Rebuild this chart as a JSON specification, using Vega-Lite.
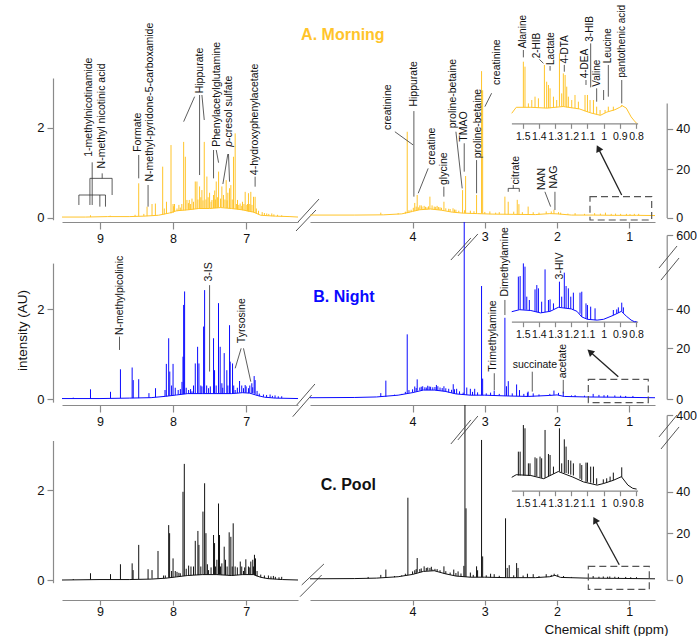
{
"$schema":"https://vega.github.io/schema/vega-lite/v6.json",
"width":697,"height":636,"autosize":"none","padding":0,"background":"white",
"config":{"view":{"stroke":null},"font":"Liberation Sans",
"axis":{"grid":false,"labelFont":"Liberation Sans","titleFont":"Liberation Sans","domainColor":"#8a8a8a","tickColor":"#8a8a8a","labelColor":"#111","labelFlush":false,"labelOverlap":false,"labelFontSize":12.5,"tickSize":6,"domainWidth":1.2,"tickWidth":1.2,"labelPadding":3}},
"datasets":{
"ALb":[{"x":9.52,"y":0.01},{"x":9.2,"y":0.01},{"x":8.9,"y":0.02},{"x":8.6,"y":0.02},{"x":8.4,"y":0.03},{"x":8.2,"y":0.05},{"x":8.05,"y":0.1},{"x":7.95,"y":0.15},{"x":7.8,"y":0.17},{"x":7.65,"y":0.2},{"x":7.5,"y":0.2},{"x":7.35,"y":0.22},{"x":7.2,"y":0.2},{"x":7.05,"y":0.17},{"x":6.9,"y":0.12},{"x":6.8,"y":0.05},{"x":6.6,"y":0.03},{"x":6.4,"y":0.02},{"x":6.29,"y":0.01}],
"ALp":[{"x":9.13,"y":0.05,"b":0.01},{"x":8.86,"y":0.04,"b":0.02},{"x":8.52,"y":0.06,"b":0.03},{"x":8.47,"y":0.76,"b":0.03},{"x":8.4,"y":0.08,"b":0.03},{"x":8.356,"y":0.24,"b":0.03},{"x":8.288,"y":0.3,"b":0.04},{"x":8.242,"y":0.31,"b":0.04},{"x":8.142,"y":1.13,"b":0.07},{"x":8.09,"y":0.35,"b":0.08},{"x":8.028,"y":1.61,"b":0.09},{"x":7.992,"y":0.25,"b":0.12},{"x":7.946,"y":0.2,"b":0.14},{"x":7.901,"y":0.22,"b":0.15},{"x":7.855,"y":1.68,"b":0.16},{"x":7.832,"y":1.35,"b":0.16},{"x":7.81,"y":0.39,"b":0.17},{"x":7.778,"y":0.39,"b":0.17},{"x":7.741,"y":0.42,"b":0.18},{"x":7.696,"y":0.8,"b":0.19},{"x":7.673,"y":0.8,"b":0.19},{"x":7.637,"y":0.69,"b":0.2},{"x":7.62,"y":0.45,"b":0.2},{"x":7.605,"y":0.61,"b":0.2},{"x":7.573,"y":1.68,"b":0.2},{"x":7.537,"y":0.91,"b":0.2},{"x":7.5,"y":0.55,"b":0.2},{"x":7.468,"y":0.39,"b":0.21},{"x":7.446,"y":0.5,"b":0.21},{"x":7.43,"y":0.6,"b":0.21},{"x":7.409,"y":0.8,"b":0.21},{"x":7.377,"y":1.02,"b":0.22},{"x":7.332,"y":0.69,"b":0.22},{"x":7.31,"y":0.5,"b":0.22},{"x":7.273,"y":0.83,"b":0.21},{"x":7.25,"y":0.55,"b":0.21},{"x":7.227,"y":0.65,"b":0.2},{"x":7.209,"y":0.72,"b":0.2},{"x":7.173,"y":1.35,"b":0.19},{"x":7.15,"y":1.87,"b":0.19},{"x":7.118,"y":0.39,"b":0.18},{"x":7.082,"y":0.31,"b":0.17},{"x":7.05,"y":0.35,"b":0.16},{"x":7.013,"y":0.57,"b":0.15},{"x":6.98,"y":0.3,"b":0.14},{"x":6.968,"y":0.54,"b":0.13},{"x":6.936,"y":0.57,"b":0.12},{"x":6.899,"y":0.46,"b":0.11},{"x":6.877,"y":0.46,"b":0.1},{"x":6.78,"y":0.12,"b":0.05},{"x":6.718,"y":0.09,"b":0.04},{"x":6.649,"y":0.09,"b":0.03},{"x":6.513,"y":0.05,"b":0.02},
{"x":8.12,"y":0.2,"b":0.07},{"x":8.0,"y":0.3,"b":0.1},{"x":7.98,"y":0.3,"b":0.13},{"x":7.92,"y":0.28,"b":0.15},{"x":7.88,"y":0.3,"b":0.16},{"x":7.79,"y":0.32,"b":0.17},{"x":7.76,"y":0.3,"b":0.17},{"x":7.72,"y":0.35,"b":0.18},{"x":7.66,"y":0.4,"b":0.19},{"x":7.59,"y":0.38,"b":0.2},{"x":7.55,"y":0.4,"b":0.2},{"x":7.52,"y":0.45,"b":0.2},{"x":7.48,"y":0.35,"b":0.2},{"x":7.42,"y":0.4,"b":0.21},{"x":7.39,"y":0.45,"b":0.21},{"x":7.35,"y":0.42,"b":0.22},{"x":7.29,"y":0.4,"b":0.22},{"x":7.26,"y":0.38,"b":0.21},{"x":7.19,"y":0.4,"b":0.2},{"x":7.13,"y":0.3,"b":0.19},{"x":7.1,"y":0.28,"b":0.18},{"x":7.06,"y":0.26,"b":0.17},{"x":7.03,"y":0.3,"b":0.16},{"x":6.99,"y":0.28,"b":0.14},{"x":6.95,"y":0.3,"b":0.13},{"x":6.92,"y":0.28,"b":0.12},{"x":6.86,"y":0.2,"b":0.09},{"x":6.83,"y":0.15,"b":0.07},{"x":6.75,"y":0.1,"b":0.05},{"x":6.69,"y":0.08,"b":0.04},{"x":6.62,"y":0.07,"b":0.03},{"x":6.57,"y":0.06,"b":0.03}],
"ALt":[{"x":9.152,"y":1.35,"t":"1-methylnicotinamide"},{"x":8.97,"y":1.09,"t":"N-methyl nicotinic acid"},{"x":8.484,"y":1.46,"t":"Formate"},{"x":8.31,"y":0.8,"t":"N-methyl-pyridone-5-carboxamide"},{"x":7.637,"y":2.76,"t":"Hippurate"},{"x":7.4,"y":1.57,"t":"Phenylacetylglutamine"},{"x":7.228,"y":1.7,"t":"-cresol sulfate"},{"x":6.877,"y":0.94,"t":"4-hydroxyphenylacetate"}],
"ALl":[{"x":9.107,"y":1.226,"x2":9.107,"y2":0.278},{"x":9.138,"y":0.87,"x2":8.834,"y2":0.87},{"x":8.97,"y":0.981,"x2":8.97,"y2":0.87},{"x":8.834,"y":0.87,"x2":8.834,"y2":0.5},{"x":9.138,"y":0.87,"x2":9.138,"y2":0.278},{"x":9.289,"y":0.5,"x2":8.925,"y2":0.5},{"x":9.289,"y":0.5,"x2":9.289,"y2":0.278},{"x":9.002,"y":0.5,"x2":9.002,"y2":0.241},{"x":8.925,"y":0.5,"x2":8.925,"y2":0.241},{"x":8.47,"y":1.389,"x2":8.47,"y2":0.87},{"x":8.342,"y":0.722,"x2":8.342,"y2":0.241},{"x":7.705,"y":2.685,"x2":7.855,"y2":2.13},{"x":7.637,"y":2.722,"x2":7.637,"y2":0.944},{"x":7.605,"y":2.722,"x2":7.573,"y2":2.167},{"x":7.409,"y":1.5,"x2":7.377,"y2":1.218},{"x":7.446,"y":1.5,"x2":7.446,"y2":0.87},{"x":7.25,"y":1.411,"x2":7.318,"y2":0.744},{"x":7.241,"y":1.411,"x2":7.227,"y2":0.796},{"x":6.877,"y":0.907,"x2":6.877,"y2":0.685}],
"ALk":[{"x":6.29,"y":-0.1,"x2":6.003,"y2":0.41},{"x":6.317,"y":-0.3,"x2":6.044,"y2":0.167}],
"ARb":[{"x":5.42,"y":1},{"x":4.8,"y":1},{"x":4.4,"y":1.1},{"x":4.15,"y":1.5},{"x":4.0,"y":2.5},{"x":3.9,"y":3.2},{"x":3.75,"y":3.5},{"x":3.6,"y":3},{"x":3.45,"y":2.2},{"x":3.3,"y":1.8},{"x":3.1,"y":1.6},{"x":2.9,"y":1.4},{"x":2.6,"y":1.3},{"x":2.3,"y":1.2},{"x":2.1,"y":1.6},{"x":2.0,"y":1.5},{"x":1.8,"y":1.0},{"x":1.5,"y":1.0},{"x":1.2,"y":0.9},{"x":0.9,"y":0.9},{"x":0.644,"y":0.8}],
"ARp":[{"x":4.44,"y":2,"b":1.1},{"x":4.074,"y":38.4,"b":1.8},{"x":4.05,"y":3,"b":1.9},{"x":3.97,"y":6,"b":2.7},{"x":3.936,"y":9.3,"b":3},{"x":3.9,"y":5,"b":3.2},{"x":3.87,"y":4.5,"b":3.3},{"x":3.84,"y":4.8,"b":3.3},{"x":3.8,"y":4.2,"b":3.4},{"x":3.76,"y":8.6,"b":3.5},{"x":3.73,"y":5,"b":3.4},{"x":3.7,"y":4.5,"b":3.3},{"x":3.66,"y":4.8,"b":3.2},{"x":3.62,"y":4.2,"b":3.1},{"x":3.566,"y":6.5,"b":2.9},{"x":3.5,"y":3.6,"b":2.5},{"x":3.44,"y":3.8,"b":2.2},{"x":3.4,"y":3.2,"b":2.1},{"x":3.308,"y":11.3,"b":1.8},{"x":3.266,"y":17.1,"b":1.8},{"x":3.2,"y":2.8,"b":1.7},{"x":3.114,"y":9.3,"b":1.6},{"x":3.045,"y":67,"b":1.6},{"x":3.03,"y":58,"b":1.6},{"x":2.93,"y":2.5,"b":1.4},{"x":2.722,"y":8.6,"b":1.3},{"x":2.676,"y":6.5,"b":1.3},{"x":2.551,"y":7.3,"b":1.3},{"x":2.528,"y":5.5,"b":1.3},{"x":2.4,"y":4.5,"b":1.2},{"x":2.33,"y":2.2,"b":1.2},{"x":2.15,"y":2.5,"b":1.5},{"x":2.043,"y":3.2,"b":1.5},{"x":1.95,"y":2,"b":1.3},{"x":1.75,"y":1.8,"b":1.0},{"x":1.48,"y":1.8,"b":1.0},{"x":1.33,"y":2,"b":1.0},{"x":1.19,"y":1.6,"b":0.9},{"x":1.04,"y":1.5,"b":0.9},{"x":0.93,"y":1.5,"b":0.9},
{"x":4.2,"y":1.8,"b":1.3},{"x":4.1,"y":2.4,"b":1.6},{"x":4.02,"y":3.2,"b":2.3},{"x":3.99,"y":4,"b":2.6},{"x":3.95,"y":4.5,"b":2.9},{"x":3.92,"y":4.2,"b":3.1},{"x":3.88,"y":5,"b":3.3},{"x":3.82,"y":4.4,"b":3.4},{"x":3.78,"y":4.6,"b":3.5},{"x":3.68,"y":4.4,"b":3.3},{"x":3.64,"y":4.3,"b":3.2},{"x":3.6,"y":4,"b":3},{"x":3.54,"y":3.8,"b":2.8},{"x":3.48,"y":3.5,"b":2.4},{"x":3.42,"y":3.3,"b":2.2},{"x":3.36,"y":2.8,"b":2},{"x":3.28,"y":3,"b":1.8},{"x":3.15,"y":2.6,"b":1.6},{"x":3.0,"y":2.3,"b":1.5},{"x":2.85,"y":2,"b":1.4},{"x":2.8,"y":2.2,"b":1.4},{"x":2.6,"y":2.4,"b":1.3},{"x":2.48,"y":2.2,"b":1.3},{"x":2.25,"y":2,"b":1.2},{"x":2.08,"y":2.5,"b":1.6},{"x":1.98,"y":2.2,"b":1.4},{"x":1.85,"y":1.6,"b":1.1},{"x":1.62,"y":1.5,"b":1},{"x":1.4,"y":1.6,"b":1},{"x":1.25,"y":1.5,"b":0.9},{"x":1.12,"y":1.5,"b":0.9},{"x":0.99,"y":1.4,"b":0.9},{"x":0.87,"y":1.5,"b":0.9}],
"ARt":[{"x":4.338,"y":39.3,"t":"creatinine"},{"x":3.982,"y":50.3,"t":"Hippurate"},{"x":3.737,"y":22,"t":"creatine"},{"x":3.567,"y":13.4,"t":"glycine"},{"x":3.447,"y":40.1,"t":"proline-betaine"},{"x":3.285,"y":33.5,"t":"TMAO"},{"x":3.1,"y":25.3,"t":"proline-betaine"},{"x":2.837,"y":60.5,"t":"creatinine"},{"x":2.569,"y":13.6,"t":"citrate"},{"x":2.205,"y":11.3,"t":"NAN"},{"x":2.043,"y":12,"t":"NAG"}],
"ARl":[{"x":4.245,"y":38.4,"x2":3.993,"y2":31.9},{"x":3.982,"y":48.2,"x2":3.982,"y2":8.6},{"x":3.784,"y":20.3,"x2":3.922,"y2":10},{"x":3.567,"y":12.7,"x2":3.567,"y2":8.6},{"x":3.4,"y":38.4,"x2":3.313,"y2":12},{"x":3.285,"y":32.7,"x2":3.285,"y2":18.9},{"x":3.114,"y":24.4,"x2":3.114,"y2":10},{"x":2.906,"y":56.6,"x2":2.999,"y2":50.3},{"x":2.676,"y":12,"x2":2.523,"y2":12},{"x":2.676,"y":12,"x2":2.676,"y2":10.6},{"x":2.523,"y":12,"x2":2.523,"y2":10.6},{"x":2.606,"y":13.4,"x2":2.606,"y2":12},{"x":2.168,"y":10.6,"x2":2.089,"y2":4.5},{"x":2.029,"y":10.6,"x2":2.029,"y2":3.1}],
"AIb":[{"x":1.568,"y":12.5},{"x":1.54,"y":20},{"x":1.45,"y":20},{"x":1.35,"y":19},{"x":1.25,"y":21},{"x":1.15,"y":18},{"x":1.08,"y":13},{"x":1.04,"y":11},{"x":1.02,"y":10},{"x":0.98,"y":14},{"x":0.93,"y":17},{"x":0.9,"y":20},{"x":0.885,"y":22},{"x":0.86,"y":19},{"x":0.83,"y":8},{"x":0.81,"y":3},{"x":0.796,"y":0}],
"AIp":[{"x":1.496,"y":77,"b":20},{"x":1.486,"y":70.8,"b":20},{"x":1.465,"y":24.9,"b":20},{"x":1.444,"y":29.1,"b":20},{"x":1.424,"y":33.3,"b":20},{"x":1.403,"y":31.2,"b":19.5},{"x":1.366,"y":72.9,"b":19},{"x":1.352,"y":52,"b":19},{"x":1.341,"y":47.9,"b":19},{"x":1.331,"y":43.7,"b":19},{"x":1.31,"y":33.3,"b":20},{"x":1.29,"y":29.1,"b":20},{"x":1.273,"y":87.4,"b":21},{"x":1.259,"y":37.4,"b":21},{"x":1.249,"y":62.4,"b":21},{"x":1.238,"y":60.4,"b":21},{"x":1.228,"y":45.8,"b":20},{"x":1.218,"y":33.3,"b":20},{"x":1.197,"y":29.1,"b":19},{"x":1.177,"y":35.4,"b":19},{"x":1.156,"y":27,"b":18},{"x":1.115,"y":35.4,"b":15},{"x":1.1,"y":35.4,"b":14},{"x":1.084,"y":29.1,"b":13},{"x":1.063,"y":29.1,"b":12},{"x":1.043,"y":20.8,"b":11},{"x":1.022,"y":16.6,"b":10},{"x":0.991,"y":16.6,"b":13},{"x":0.971,"y":20.8,"b":15},{"x":0.94,"y":20.8,"b":16},{"x":0.888,"y":22.9,"b":21}],
"AIt":[{"x":1.496,"y":93.7,"t":"Alanine"},{"x":1.409,"y":81.2,"t":"2-HIB"},{"x":1.327,"y":72.9,"t":"Lactate"},{"x":1.238,"y":74.9,"t":"4-DTA"},{"x":1.115,"y":56.2,"t":"4-DEA"},{"x":1.084,"y":102,"t":"3-HIB"},{"x":1.039,"y":45.8,"t":"Valine"},{"x":0.971,"y":75,"t":"Leucine"},{"x":0.888,"y":57,"t":"pantothenic acid"}],
"AIl":[{"x":1.496,"y":91.6,"x2":1.496,"y2":82.4},{"x":1.397,"y":79.9,"x2":1.372,"y2":75},{"x":1.331,"y":71.6,"x2":1.331,"y2":65.8},{"x":1.243,"y":73,"x2":1.243,"y2":64.5},{"x":1.109,"y":54.1,"x2":1.109,"y2":47.9},{"x":1.08,"y":99.9,"x2":1.08,"y2":44.9},{"x":1.043,"y":43.7,"x2":1.043,"y2":27},{"x":0.971,"y":72.9,"x2":0.971,"y2":33.3},{"x":1.0,"y":41.6,"x2":1.0,"y2":29.1},{"x":0.888,"y":54.1,"x2":0.888,"y2":24.9}],
"BLb":[{"x":9.52,"y":0.01},{"x":9.0,"y":0.01},{"x":8.6,"y":0.02},{"x":8.3,"y":0.03},{"x":8.1,"y":0.06},{"x":7.95,"y":0.09},{"x":7.8,"y":0.12},{"x":7.6,"y":0.12},{"x":7.4,"y":0.12},{"x":7.2,"y":0.12},{"x":7.05,"y":0.14},{"x":6.95,"y":0.13},{"x":6.85,"y":0.08},{"x":6.75,"y":0.04},{"x":6.6,"y":0.02},{"x":6.29,"y":0.01}],
"BLp":[{"x":9.366,"y":0.03,"b":0.01},{"x":9.13,"y":0.215,"b":0.01},{"x":8.856,"y":0.16,"b":0.02},{"x":8.72,"y":0.66,"b":0.02},{"x":8.56,"y":0.7,"b":0.02},{"x":8.545,"y":0.42,"b":0.02},{"x":8.47,"y":0.44,"b":0.02},{"x":8.33,"y":0.13,"b":0.03},{"x":8.24,"y":0.24,"b":0.04},{"x":8.092,"y":0.78,"b":0.06},{"x":8.06,"y":1.35,"b":0.07},{"x":8.045,"y":0.61,"b":0.07},{"x":8.0,"y":0.78,"b":0.08},{"x":7.93,"y":0.2,"b":0.1},{"x":7.878,"y":0.38,"b":0.11},{"x":7.864,"y":0.94,"b":0.11},{"x":7.855,"y":2.09,"b":0.11},{"x":7.842,"y":2.39,"b":0.11},{"x":7.787,"y":0.2,"b":0.12},{"x":7.741,"y":0.17,"b":0.12},{"x":7.696,"y":0.79,"b":0.12},{"x":7.664,"y":1.16,"b":0.12},{"x":7.646,"y":0.79,"b":0.12},{"x":7.605,"y":0.28,"b":0.12},{"x":7.582,"y":1.61,"b":0.12},{"x":7.568,"y":2.42,"b":0.12},{"x":7.514,"y":0.24,"b":0.12},{"x":7.446,"y":1.35,"b":0.12},{"x":7.432,"y":0.64,"b":0.12},{"x":7.378,"y":2.13,"b":0.12},{"x":7.355,"y":1.16,"b":0.12},{"x":7.332,"y":0.35,"b":0.12},{"x":7.3,"y":1.02,"b":0.12},{"x":7.264,"y":0.64,"b":0.12},{"x":7.227,"y":1.64,"b":0.12},{"x":7.218,"y":0.83,"b":0.12},{"x":7.186,"y":0.79,"b":0.12},{"x":7.15,"y":0.2,"b":0.13},{"x":7.09,"y":0.4,"b":0.14},{"x":7.036,"y":0.24,"b":0.14},{"x":7.013,"y":0.31,"b":0.14},{"x":6.968,"y":0.24,"b":0.13},{"x":6.922,"y":0.35,"b":0.13},{"x":6.89,"y":0.51,"b":0.12},{"x":6.877,"y":0.42,"b":0.11},{"x":6.763,"y":0.1,"b":0.05},{"x":6.672,"y":0.1,"b":0.03},{"x":6.604,"y":0.08,"b":0.02},{"x":6.513,"y":0.06,"b":0.02},
{"x":8.11,"y":0.2,"b":0.06},{"x":8.02,"y":0.3,"b":0.08},{"x":7.97,"y":0.25,"b":0.09},{"x":7.9,"y":0.22,"b":0.1},{"x":7.82,"y":0.25,"b":0.12},{"x":7.76,"y":0.22,"b":0.12},{"x":7.72,"y":0.3,"b":0.12},{"x":7.62,"y":0.3,"b":0.12},{"x":7.54,"y":0.3,"b":0.12},{"x":7.49,"y":0.28,"b":0.12},{"x":7.41,"y":0.3,"b":0.12},{"x":7.32,"y":0.25,"b":0.12},{"x":7.25,"y":0.3,"b":0.12},{"x":7.17,"y":0.3,"b":0.13},{"x":7.12,"y":0.25,"b":0.13},{"x":7.06,"y":0.3,"b":0.14},{"x":7.0,"y":0.28,"b":0.14},{"x":6.95,"y":0.3,"b":0.13},{"x":6.91,"y":0.26,"b":0.13},{"x":6.85,"y":0.18,"b":0.08},{"x":6.82,"y":0.12,"b":0.06},{"x":6.72,"y":0.09,"b":0.04},{"x":6.64,"y":0.07,"b":0.03},{"x":6.56,"y":0.06,"b":0.02}],
"BLt":[{"x":8.733,"y":1.42,"t":"N-methylpicolinic"},{"x":7.514,"y":2.61,"t":"3-IS"},{"x":7.05,"y":1.24,"t":"Tyrsosine"}],
"BLl":[{"x":8.733,"y":1.385,"x2":8.733,"y2":1.09},{"x":7.5,"y":2.53,"x2":7.5,"y2":0.61},{"x":7.068,"y":1.126,"x2":7.15,"y2":0.682},{"x":7.036,"y":1.126,"x2":6.936,"y2":0.385}],
"BLk":[{"x":6.307,"y":-0.133,"x2":6.058,"y2":0.333},{"x":6.362,"y":-0.393,"x2":6.103,"y2":0.089}],
"BRb":[{"x":5.42,"y":0.5},{"x":4.8,"y":0.6},{"x":4.5,"y":0.8},{"x":4.2,"y":1.5},{"x":4.0,"y":2.5},{"x":3.85,"y":3.5},{"x":3.7,"y":3.5},{"x":3.55,"y":3.0},{"x":3.4,"y":2.0},{"x":3.2,"y":1.5},{"x":3.0,"y":1.5},{"x":2.7,"y":1.2},{"x":2.4,"y":1.0},{"x":2.1,"y":1.4},{"x":2.0,"y":1.6},{"x":1.9,"y":1.0},{"x":1.6,"y":0.8},{"x":1.2,"y":0.7},{"x":0.644,"y":0.5}],
"BRp":[{"x":4.44,"y":2.3,"b":0.8},{"x":4.37,"y":7.2,"b":0.9},{"x":4.074,"y":27,"b":2.2},{"x":4.05,"y":3.5,"b":2.4},{"x":3.97,"y":4.9,"b":2.8},{"x":3.936,"y":7.7,"b":3.2},{"x":3.9,"y":4.5,"b":3.4},{"x":3.86,"y":5,"b":3.5},{"x":3.83,"y":4.6,"b":3.5},{"x":3.79,"y":5.2,"b":3.5},{"x":3.75,"y":4.8,"b":3.5},{"x":3.72,"y":4.6,"b":3.5},{"x":3.67,"y":5.5,"b":3.4},{"x":3.62,"y":4.5,"b":3.2},{"x":3.566,"y":5,"b":3},{"x":3.5,"y":4,"b":2.6},{"x":3.437,"y":5.8,"b":2.2},{"x":3.39,"y":4,"b":2},{"x":3.285,"y":766,"b":1.7},{"x":3.25,"y":4.5,"b":1.6},{"x":3.2,"y":4,"b":1.5},{"x":3.14,"y":4,"b":1.5},{"x":3.045,"y":48.9,"b":1.5},{"x":3.03,"y":8,"b":1.5},{"x":2.92,"y":2.5,"b":1.4},{"x":2.87,"y":3.3,"b":1.4},{"x":2.722,"y":35.5,"b":1.2},{"x":2.7,"y":5,"b":1.2},{"x":2.675,"y":7,"b":1.2},{"x":2.56,"y":5.7,"b":1.1},{"x":2.52,"y":3.5,"b":1.1},{"x":2.41,"y":2.5,"b":1},{"x":2.4,"y":2.9,"b":1},{"x":2.33,"y":2.2,"b":1},{"x":2.043,"y":3.3,"b":1.6},{"x":1.914,"y":2.9,"b":1},{"x":1.75,"y":1.5,"b":0.8},{"x":1.5,"y":2,"b":0.8},{"x":1.42,"y":1.6,"b":0.8},{"x":1.3,"y":1.5,"b":0.7},{"x":1.2,"y":1.4,"b":0.7},{"x":1.05,"y":1.2,"b":0.6},
{"x":4.25,"y":1.7,"b":1.3},{"x":4.15,"y":2,"b":1.7},{"x":4.1,"y":2.8,"b":2},{"x":4.0,"y":3.8,"b":2.5},{"x":3.95,"y":4.3,"b":2.9},{"x":3.88,"y":4.8,"b":3.4},{"x":3.81,"y":4.5,"b":3.5},{"x":3.77,"y":4.9,"b":3.5},{"x":3.69,"y":4.7,"b":3.5},{"x":3.65,"y":5,"b":3.3},{"x":3.59,"y":4.3,"b":3.1},{"x":3.54,"y":4.2,"b":2.9},{"x":3.46,"y":3.6,"b":2.4},{"x":3.42,"y":3.8,"b":2.2},{"x":3.35,"y":3,"b":1.9},{"x":3.3,"y":2.5,"b":1.8},{"x":3.17,"y":2.8,"b":1.5},{"x":3.1,"y":2.6,"b":1.5},{"x":2.98,"y":2.2,"b":1.5},{"x":2.8,"y":2,"b":1.3},{"x":2.62,"y":2.2,"b":1.2},{"x":2.46,"y":2,"b":1.1},{"x":2.25,"y":1.8,"b":1.1},{"x":2.1,"y":2,"b":1.4},{"x":1.98,"y":2.4,"b":1.5},{"x":1.8,"y":1.4,"b":0.9},{"x":1.62,"y":1.3,"b":0.8},{"x":1.35,"y":1.5,"b":0.7},{"x":1.12,"y":1.3,"b":0.7},{"x":0.95,"y":1.2,"b":0.6}],
"BRt":[{"x":2.883,"y":10.7,"t":"Trimethylamine"},{"x":2.722,"y":44.8,"t":"Dimethylamine"},{"x":1.914,"y":8.1,"t":"acetate"}],
"BRl":[{"x":2.869,"y":10.1,"x2":2.869,"y2":3.5},{"x":2.722,"y":43.5,"x2":2.722,"y2":36.9},{"x":2.343,"y":10.7,"x2":2.343,"y2":2.9},{"x":1.914,"y":7.5,"x2":1.914,"y2":2.2}],
"BRk":[{"x":0.589,"y":179,"x2":0.339,"y2":460},{"x":0.561,"y":51.2,"x2":0.311,"y2":307},{"x":3.47,"y":281,"x2":3.193,"y2":562},{"x":3.373,"y":332,"x2":3.096,"y2":613}],
"BIb":[{"x":1.568,"y":12.5},{"x":1.52,"y":15},{"x":1.45,"y":14},{"x":1.39,"y":11},{"x":1.33,"y":13},{"x":1.28,"y":18},{"x":1.2,"y":16},{"x":1.165,"y":13},{"x":1.135,"y":6},{"x":1.1,"y":3},{"x":1.04,"y":2},{"x":1.0,"y":3},{"x":0.94,"y":8},{"x":0.89,"y":13},{"x":0.86,"y":7},{"x":0.83,"y":2},{"x":0.81,"y":0},{"x":0.796,"y":0}],
"BIp":[{"x":1.527,"y":56.3,"b":15},{"x":1.516,"y":57.1,"b":15},{"x":1.496,"y":72.9,"b":15},{"x":1.486,"y":68.8,"b":15},{"x":1.475,"y":31.3,"b":15},{"x":1.459,"y":27.1,"b":14},{"x":1.424,"y":40.4,"b":13},{"x":1.413,"y":45.8,"b":12},{"x":1.403,"y":41.7,"b":12},{"x":1.383,"y":25,"b":11},{"x":1.362,"y":65.4,"b":12},{"x":1.341,"y":27.1,"b":13},{"x":1.331,"y":27.9,"b":13},{"x":1.31,"y":22.9,"b":15},{"x":1.273,"y":50,"b":18},{"x":1.259,"y":31.3,"b":18},{"x":1.243,"y":61.3,"b":17},{"x":1.232,"y":44.6,"b":17},{"x":1.218,"y":41.7,"b":16},{"x":1.203,"y":31.3,"b":16},{"x":1.187,"y":36.3,"b":15},{"x":1.146,"y":36.3,"b":10},{"x":1.135,"y":37.5,"b":6},{"x":1.109,"y":22.9,"b":4},{"x":1.1,"y":20.8,"b":3},{"x":1.08,"y":18.8,"b":3},{"x":1.053,"y":16.7,"b":2},{"x":0.94,"y":14.6,"b":8},{"x":0.919,"y":15.4,"b":10},{"x":0.909,"y":17.9,"b":11},{"x":0.888,"y":23.8,"b":13},{"x":0.878,"y":17.9,"b":11}],
"CLb":[{"x":9.52,"y":0},{"x":9.0,"y":0.01},{"x":8.6,"y":0.01},{"x":8.3,"y":0.02},{"x":8.1,"y":0.04},{"x":7.95,"y":0.07},{"x":7.8,"y":0.1},{"x":7.6,"y":0.12},{"x":7.4,"y":0.12},{"x":7.2,"y":0.1},{"x":7.05,"y":0.12},{"x":6.9,"y":0.12},{"x":6.8,"y":0.06},{"x":6.7,"y":0.03},{"x":6.5,"y":0.01},{"x":6.29,"y":0}],
"CLp":[{"x":9.366,"y":0.02,"b":0},{"x":9.13,"y":0.15,"b":0.01},{"x":8.856,"y":0.13,"b":0.01},{"x":8.72,"y":0.35,"b":0.01},{"x":8.56,"y":0.37,"b":0.02},{"x":8.547,"y":0.22,"b":0.02},{"x":8.47,"y":0.78,"b":0.02},{"x":8.342,"y":0.24,"b":0.02},{"x":8.288,"y":0.22,"b":0.03},{"x":8.206,"y":0.645,"b":0.03},{"x":8.106,"y":0.1,"b":0.04},{"x":8.06,"y":1.22,"b":0.05},{"x":8.047,"y":1.04,"b":0.05},{"x":8.0,"y":0.48,"b":0.06},{"x":7.946,"y":0.18,"b":0.07},{"x":7.901,"y":0.15,"b":0.08},{"x":7.864,"y":1.96,"b":0.09},{"x":7.846,"y":2.58,"b":0.09},{"x":7.787,"y":0.32,"b":0.1},{"x":7.755,"y":0.3,"b":0.1},{"x":7.696,"y":0.87,"b":0.11},{"x":7.66,"y":1.09,"b":0.11},{"x":7.646,"y":0.78,"b":0.11},{"x":7.591,"y":1.52,"b":0.12},{"x":7.568,"y":2.15,"b":0.12},{"x":7.55,"y":1.04,"b":0.12},{"x":7.514,"y":0.22,"b":0.12},{"x":7.446,"y":1.0,"b":0.12},{"x":7.432,"y":0.82,"b":0.12},{"x":7.4,"y":0.45,"b":0.12},{"x":7.378,"y":1.7,"b":0.12},{"x":7.364,"y":1.0,"b":0.12},{"x":7.332,"y":0.37,"b":0.11},{"x":7.3,"y":0.74,"b":0.11},{"x":7.282,"y":0.45,"b":0.11},{"x":7.232,"y":1.06,"b":0.1},{"x":7.209,"y":0.96,"b":0.1},{"x":7.177,"y":1.26,"b":0.1},{"x":7.15,"y":0.3,"b":0.11},{"x":7.08,"y":0.41,"b":0.12},{"x":7.036,"y":0.2,"b":0.12},{"x":7.004,"y":0.46,"b":0.12},{"x":6.968,"y":0.3,"b":0.12},{"x":6.936,"y":0.41,"b":0.12},{"x":6.909,"y":0.45,"b":0.12},{"x":6.886,"y":0.56,"b":0.11},{"x":6.872,"y":0.48,"b":0.1},{"x":6.695,"y":0.1,"b":0.03},{"x":6.627,"y":0.09,"b":0.02},{"x":6.513,"y":0.07,"b":0.01},
{"x":8.13,"y":0.1,"b":0.04},{"x":8.02,"y":0.2,"b":0.06},{"x":7.97,"y":0.2,"b":0.07},{"x":7.92,"y":0.16,"b":0.08},{"x":7.82,"y":0.25,"b":0.1},{"x":7.72,"y":0.3,"b":0.11},{"x":7.62,"y":0.3,"b":0.12},{"x":7.53,"y":0.35,"b":0.12},{"x":7.48,"y":0.28,"b":0.12},{"x":7.42,"y":0.3,"b":0.12},{"x":7.35,"y":0.3,"b":0.12},{"x":7.26,"y":0.3,"b":0.11},{"x":7.19,"y":0.3,"b":0.1},{"x":7.12,"y":0.28,"b":0.11},{"x":7.06,"y":0.3,"b":0.12},{"x":7.02,"y":0.28,"b":0.12},{"x":6.95,"y":0.28,"b":0.12},{"x":6.9,"y":0.3,"b":0.12},{"x":6.85,"y":0.2,"b":0.08},{"x":6.8,"y":0.12,"b":0.06},{"x":6.75,"y":0.1,"b":0.04},{"x":6.66,"y":0.08,"b":0.02},{"x":6.6,"y":0.07,"b":0.02},{"x":6.55,"y":0.06,"b":0.01}],
"CLk":[{"x":6.239,"y":-0.111,"x2":5.935,"y2":0.356},{"x":6.262,"y":-0.371,"x2":5.966,"y2":0.111}],
"CRb":[{"x":5.42,"y":0.3},{"x":4.8,"y":0.4},{"x":4.5,"y":0.6},{"x":4.2,"y":1.2},{"x":4.0,"y":2.2},{"x":3.85,"y":3.5},{"x":3.7,"y":3.8},{"x":3.55,"y":2.5},{"x":3.4,"y":1.5},{"x":3.2,"y":1.0},{"x":3.0,"y":1.0},{"x":2.7,"y":0.8},{"x":2.3,"y":0.8},{"x":2.1,"y":1.2},{"x":2.03,"y":1.8},{"x":1.95,"y":0.9},{"x":1.6,"y":0.6},{"x":1.2,"y":0.5},{"x":0.644,"y":0.3}],
"CRp":[{"x":4.615,"y":1.1,"b":0.5},{"x":4.44,"y":2,"b":0.7},{"x":4.37,"y":4.3,"b":0.8},{"x":4.08,"y":2,"b":1.8},{"x":4.065,"y":37.1,"b":1.9},{"x":3.97,"y":4,"b":2.5},{"x":3.936,"y":9.3,"b":3},{"x":3.9,"y":4.5,"b":3.3},{"x":3.84,"y":5.7,"b":3.6},{"x":3.81,"y":5,"b":3.7},{"x":3.76,"y":5,"b":3.8},{"x":3.72,"y":4.3,"b":3.8},{"x":3.66,"y":4.5,"b":3.5},{"x":3.566,"y":5.7,"b":2.6},{"x":3.43,"y":4.3,"b":1.6},{"x":3.37,"y":3.5,"b":1.4},{"x":3.29,"y":5.9,"b":1.2},{"x":3.275,"y":467,"b":1.2},{"x":3.26,"y":32,"b":1.1},{"x":3.2,"y":3,"b":1},{"x":3.114,"y":5.7,"b":1},{"x":3.1,"y":4,"b":1},{"x":3.045,"y":233,"b":1},{"x":3.03,"y":10,"b":1},{"x":2.92,"y":2.5,"b":0.9},{"x":2.87,"y":2.3,"b":0.9},{"x":2.713,"y":27.2,"b":0.8},{"x":2.69,"y":5,"b":0.8},{"x":2.662,"y":6.2,"b":0.8},{"x":2.56,"y":7.1,"b":0.8},{"x":2.54,"y":5,"b":0.8},{"x":2.41,"y":2.5,"b":0.8},{"x":2.33,"y":2.3,"b":0.8},{"x":2.15,"y":2.3,"b":1},{"x":2.04,"y":2.5,"b":1.7},{"x":1.91,"y":1.5,"b":0.9},{"x":1.5,"y":1.5,"b":0.6},{"x":1.36,"y":1.3,"b":0.6},{"x":1.27,"y":1.3,"b":0.5},{"x":1.2,"y":1.2,"b":0.5},{"x":1.05,"y":1.1,"b":0.5},
{"x":4.25,"y":1.5,"b":1},{"x":4.15,"y":1.8,"b":1.4},{"x":4.1,"y":2.5,"b":1.6},{"x":4.0,"y":3.5,"b":2.2},{"x":3.95,"y":4.5,"b":2.6},{"x":3.88,"y":4.8,"b":3.2},{"x":3.79,"y":5.2,"b":3.8},{"x":3.74,"y":5.5,"b":3.8},{"x":3.69,"y":4.6,"b":3.7},{"x":3.62,"y":4,"b":3.2},{"x":3.54,"y":3.6,"b":2.4},{"x":3.48,"y":3,"b":2},{"x":3.4,"y":2.8,"b":1.5},{"x":3.33,"y":2.6,"b":1.3},{"x":3.16,"y":2,"b":1},{"x":2.98,"y":1.8,"b":1},{"x":2.8,"y":1.6,"b":0.9},{"x":2.6,"y":1.8,"b":0.8},{"x":2.47,"y":1.7,"b":0.8},{"x":2.25,"y":1.5,"b":0.9},{"x":2.08,"y":2,"b":1.3},{"x":1.99,"y":2.2,"b":1.4},{"x":1.8,"y":1.1,"b":0.8},{"x":1.42,"y":1.2,"b":0.6},{"x":1.3,"y":1.2,"b":0.55},{"x":1.15,"y":1.1,"b":0.5},{"x":0.98,"y":1,"b":0.45},{"x":0.9,"y":1,"b":0.4}],
"CRk":[{"x":0.589,"y":253,"x2":0.339,"y2":400},{"x":0.561,"y":172.5,"x2":0.311,"y2":320},{"x":3.47,"y":206,"x2":3.193,"y2":367},{"x":3.373,"y":233,"x2":3.096,"y2":393}],
"CIb":[{"x":1.568,"y":16.7},{"x":1.54,"y":20},{"x":1.45,"y":19},{"x":1.37,"y":15},{"x":1.28,"y":24},{"x":1.19,"y":17},{"x":1.125,"y":11},{"x":1.04,"y":7},{"x":1.0,"y":9},{"x":0.94,"y":13},{"x":0.89,"y":17.5},{"x":0.85,"y":7},{"x":0.82,"y":3},{"x":0.796,"y":2}],
"CIp":[{"x":1.527,"y":48.8,"b":19},{"x":1.516,"y":48.8,"b":19},{"x":1.496,"y":82.1,"b":19},{"x":1.486,"y":78,"b":19},{"x":1.465,"y":34.2,"b":19},{"x":1.455,"y":34.2,"b":19},{"x":1.424,"y":41.7,"b":18},{"x":1.413,"y":40.5,"b":18},{"x":1.393,"y":42.6,"b":17},{"x":1.383,"y":40.5,"b":16},{"x":1.362,"y":75.9,"b":16},{"x":1.341,"y":45.9,"b":18},{"x":1.331,"y":44.6,"b":19},{"x":1.31,"y":30.1,"b":21},{"x":1.273,"y":78,"b":24},{"x":1.259,"y":34.2,"b":23},{"x":1.243,"y":64.2,"b":22},{"x":1.232,"y":55.1,"b":22},{"x":1.218,"y":38.4,"b":21},{"x":1.203,"y":37.6,"b":20},{"x":1.187,"y":34.2,"b":19},{"x":1.146,"y":34.2,"b":15},{"x":1.135,"y":32.1,"b":13},{"x":1.109,"y":35.1,"b":11},{"x":1.1,"y":35.1,"b":11},{"x":1.08,"y":30.1,"b":10},{"x":1.063,"y":30.1,"b":9},{"x":1.043,"y":15.5,"b":8},{"x":1.002,"y":14.2,"b":9},{"x":0.981,"y":15.5,"b":10},{"x":0.96,"y":17.6,"b":12},{"x":0.94,"y":22.6,"b":13},{"x":0.888,"y":29.2,"b":17}]
},
"layer":[
{"encoding":{
"x":{"field":"x","type":"quantitative","scale":{"domain":[9.52,6.29],"range":[62,298],"nice":false,"zero":false},"axis":{"orient":"bottom","offset":-414,"values":[9,8,7],"title":null,"tickSize":7}},
"y":{"field":"y","type":"quantitative","scale":{"domain":[-0.05,3.1],"range":[219.75,78],"nice":false,"zero":false},"axis":{"orient":"left","offset":-53,"values":[0,2],"title":null,"labelFontSize":13}}},
"layer":[
{"data":{"name":"ALb"},"mark":{"type":"line","color":"#FFC42A","strokeWidth":1},"encoding":{}},
{"data":{"name":"ALp"},"mark":{"type":"rule","color":"#FFC42A","strokeWidth":1},"encoding":{"y2":{"field":"b"}}},
{"data":{"name":"ALt"},"mark":{"type":"text","angle":270,"align":"left","baseline":"middle","fontSize":10.5,"color":"#111"},"encoding":{"text":{"field":"t"}}},
{"data":{"values":[{"x":7.228,"y":1.57,"t":"p"}]},"mark":{"type":"text","angle":270,"align":"left","baseline":"middle","fontSize":10.5,"fontStyle":"italic","color":"#111"},"encoding":{"text":{"field":"t"}}},
{"data":{"name":"ALl"},"mark":{"type":"rule","color":"#333","strokeWidth":0.8},"encoding":{"x2":{"field":"x2"},"y2":{"field":"y2"}}},
{"data":{"name":"ALk"},"mark":{"type":"rule","color":"#444","strokeWidth":0.9},"encoding":{"x2":{"field":"x2"},"y2":{"field":"y2"}}}
]},
{"encoding":{
"x":{"field":"x","type":"quantitative","scale":{"domain":[5.42,0.644],"range":[310,655],"nice":false,"zero":false},"axis":{"orient":"bottom","offset":-414,"values":[4,3,2,1],"title":null,"tickSize":6,"labelPadding":2}},
"y":{"field":"y","type":"quantitative","scale":{"domain":[0,20,40,52],"range":[217.5,169,128.5,103],"nice":false,"zero":false},"axis":{"orient":"right","offset":-30.3,"values":[0,20,40],"title":null}}},
"layer":[
{"data":{"name":"ARb"},"mark":{"type":"line","color":"#FFC42A","strokeWidth":1},"encoding":{}},
{"data":{"name":"ARp"},"mark":{"type":"rule","color":"#FFC42A","strokeWidth":1},"encoding":{"y2":{"field":"b"}}},
{"data":{"name":"ARt"},"mark":{"type":"text","angle":270,"align":"left","baseline":"middle","fontSize":10.5,"color":"#111"},"encoding":{"text":{"field":"t"}}},
{"data":{"name":"ARl"},"mark":{"type":"rule","color":"#333","strokeWidth":0.8},"encoding":{"x2":{"field":"x2"},"y2":{"field":"y2"}}},
{"data":{"values":[{"x":1.544,"y":8.6,"x2":0.69,"y2":-1.03}]},"mark":{"type":"rect","filled":false,"color":"#555","strokeDash":[7,4],"strokeWidth":1.2},"encoding":{"x2":{"field":"x2"},"y2":{"field":"y2"}}},
{"data":{"values":[{"x":1.105,"y":9.3,"x2":1.429,"y2":30.2}]},"mark":{"type":"rule","color":"#222","strokeWidth":1.3},"encoding":{"x2":{"field":"x2"},"y2":{"field":"y2"}}},
{"data":{"values":[{"x":1.429,"y":30.2}]},"mark":{"type":"point","shape":"triangle-up","filled":true,"color":"#222","opacity":1,"size":60,"angle":333.5},"encoding":{}},
{"data":{"values":[{"x":4.965,"y":84,"t":"A. Morning"}]},"mark":{"type":"text","fontSize":16,"fontWeight":"bold","align":"center","baseline":"middle","color":"#FFC42A"},"encoding":{"text":{"field":"t"}}}
]},
{"encoding":{
"x":{"field":"x","type":"quantitative","scale":{"domain":[1.57,0.79],"range":[511.4,637.6],"nice":false,"zero":false},"axis":{"orient":"bottom","offset":-512.7,"values":[1.5,1.4,1.3,1.2,1.1,1.0,0.9,0.8],"format":"~g","title":null,"tickSize":5,"labelFontSize":10.5,"labelPadding":3}},
"y":{"field":"y","type":"quantitative","scale":{"domain":[0,100],"range":[123.3,43.3],"nice":false,"zero":false},"axis":null}},
"layer":[
{"data":{"name":"AIb"},"mark":{"type":"line","color":"#FFC42A","strokeWidth":1},"encoding":{}},
{"data":{"name":"AIp"},"mark":{"type":"rule","color":"#FFC42A","strokeWidth":1},"encoding":{"y2":{"field":"b"}}},
{"data":{"name":"AIt"},"mark":{"type":"text","angle":270,"align":"left","baseline":"middle","fontSize":10,"color":"#111"},"encoding":{"text":{"field":"t"}}},
{"data":{"name":"AIl"},"mark":{"type":"rule","color":"#333","strokeWidth":0.8},"encoding":{"x2":{"field":"x2"},"y2":{"field":"y2"}}}
]},
{"encoding":{
"x":{"field":"x","type":"quantitative","scale":{"domain":[9.52,6.29],"range":[62,298],"nice":false,"zero":false},"axis":{"orient":"bottom","offset":-231,"values":[9,8,7],"title":null,"tickSize":7}},
"y":{"field":"y","type":"quantitative","scale":{"domain":[-0.07,3.02],"range":[402.15,263.1],"nice":false,"zero":false},"axis":{"orient":"left","offset":-53,"values":[0,2],"labelFontSize":13,"title":"intensity (AU)","titleX":-31,"titleY":330,"titleAngle":270,"titleAlign":"center","titleBaseline":"middle","titleFontSize":13.5,"titleFontWeight":"normal","titleColor":"#111"}}},
"layer":[
{"data":{"name":"BLb"},"mark":{"type":"line","color":"#0A0AFF","strokeWidth":1},"encoding":{}},
{"data":{"name":"BLp"},"mark":{"type":"rule","color":"#0A0AFF","strokeWidth":1},"encoding":{"y2":{"field":"b"}}},
{"data":{"name":"BLt"},"mark":{"type":"text","angle":270,"align":"left","baseline":"middle","fontSize":10.5,"color":"#111"},"encoding":{"text":{"field":"t"}}},
{"data":{"name":"BLl"},"mark":{"type":"rule","color":"#333","strokeWidth":0.8},"encoding":{"x2":{"field":"x2"},"y2":{"field":"y2"}}},
{"data":{"name":"BLk"},"mark":{"type":"rule","color":"#444","strokeWidth":0.9},"encoding":{"x2":{"field":"x2"},"y2":{"field":"y2"}}}
]},
{"encoding":{
"x":{"field":"x","type":"quantitative","scale":{"domain":[5.42,0.644],"range":[310,655],"nice":false,"zero":false},"axis":{"orient":"bottom","offset":-231,"values":[4,3,2,1],"title":null,"tickSize":7}},
"y":{"field":"y","type":"quantitative","scale":{"domain":[0,20,40,52,600],"range":[399,348,309,278,235],"nice":false,"zero":false},"axis":{"orient":"right","offset":-30.3,"values":[0,20,40,600],"title":null}}},
"layer":[
{"data":{"name":"BRb"},"mark":{"type":"line","color":"#0A0AFF","strokeWidth":1},"encoding":{}},
{"data":{"name":"BRp"},"mark":{"type":"rule","color":"#0A0AFF","strokeWidth":1},"encoding":{"y2":{"field":"b"}}},
{"data":{"name":"BRt"},"mark":{"type":"text","angle":270,"align":"left","baseline":"middle","fontSize":10.5,"color":"#111"},"encoding":{"text":{"field":"t"}}},
{"data":{"values":[{"x":2.306,"y":13.3,"t":"succinate"}]},"mark":{"type":"text","align":"center","baseline":"middle","fontSize":10.5,"color":"#111"},"encoding":{"text":{"field":"t"}}},
{"data":{"name":"BRl"},"mark":{"type":"rule","color":"#333","strokeWidth":0.8},"encoding":{"x2":{"field":"x2"},"y2":{"field":"y2"}}},
{"data":{"name":"BRk"},"mark":{"type":"rule","color":"#444","strokeWidth":0.9},"encoding":{"x2":{"field":"x2"},"y2":{"field":"y2"}}},
{"data":{"values":[{"x":1.567,"y":7.7,"x2":0.737,"y2":-1.45}]},"mark":{"type":"rect","filled":false,"color":"#555","strokeDash":[7,4],"strokeWidth":1.2},"encoding":{"x2":{"field":"x2"},"y2":{"field":"y2"}}},
{"data":{"values":[{"x":1.152,"y":8.7,"x2":1.544,"y2":18.5}]},"mark":{"type":"rule","color":"#222","strokeWidth":1.3},"encoding":{"x2":{"field":"x2"},"y2":{"field":"y2"}}},
{"data":{"values":[{"x":1.544,"y":18.5}]},"mark":{"type":"point","shape":"triangle-up","filled":true,"color":"#222","opacity":1,"size":60,"angle":311.5},"encoding":{}},
{"data":{"values":[{"x":4.95,"y":44.6,"t":"B. Night"}]},"mark":{"type":"text","fontSize":16,"fontWeight":"bold","align":"center","baseline":"middle","color":"#0A0AFF"},"encoding":{"text":{"field":"t"}}}
]},
{"encoding":{
"x":{"field":"x","type":"quantitative","scale":{"domain":[1.57,0.79],"range":[511.4,637.6],"nice":false,"zero":false},"axis":{"orient":"bottom","offset":-314.3,"values":[1.5,1.4,1.3,1.2,1.1,1.0,0.9,0.8],"format":"~g","title":null,"tickSize":5,"labelFontSize":10.5,"labelPadding":3}},
"y":{"field":"y","type":"quantitative","scale":{"domain":[0,100],"range":[321.7,241.7],"nice":false,"zero":false},"axis":null}},
"layer":[
{"data":{"name":"BIb"},"mark":{"type":"line","color":"#0A0AFF","strokeWidth":1},"encoding":{}},
{"data":{"name":"BIp"},"mark":{"type":"rule","color":"#0A0AFF","strokeWidth":1},"encoding":{"y2":{"field":"b"}}},
{"data":{"values":[{"x":1.269,"y":52.9,"t":"3-HIV"}]},"mark":{"type":"text","angle":270,"align":"left","baseline":"middle","fontSize":10.5,"color":"#111"},"encoding":{"text":{"field":"t"}}}
]},
{"encoding":{
"x":{"field":"x","type":"quantitative","scale":{"domain":[9.52,6.29],"range":[62,298],"nice":false,"zero":false},"axis":{"orient":"bottom","offset":-36,"values":[9,8,7],"title":null,"tickSize":5,"labelPadding":0.5}},
"y":{"field":"y","type":"quantitative","scale":{"domain":[-0.06,3.1],"range":[582.7,440.5],"nice":false,"zero":false},"axis":{"orient":"left","offset":-53,"values":[0,2],"title":null,"labelFontSize":13}}},
"layer":[
{"data":{"name":"CLb"},"mark":{"type":"line","color":"#111","strokeWidth":1},"encoding":{}},
{"data":{"name":"CLp"},"mark":{"type":"rule","color":"#111","strokeWidth":1},"encoding":{"y2":{"field":"b"}}},
{"data":{"name":"CLk"},"mark":{"type":"rule","color":"#444","strokeWidth":0.9},"encoding":{"x2":{"field":"x2"},"y2":{"field":"y2"}}}
]},
{"encoding":{
"x":{"field":"x","type":"quantitative","scale":{"domain":[5.42,0.644],"range":[310,655],"nice":false,"zero":false},"axis":{"orient":"bottom","offset":-36,"values":[4,3,2,1],"tickSize":5,"labelPadding":0.5,"title":"Chemical shift (ppm)","titleX":606,"titleY":29,"titleAlign":"center","titleBaseline":"middle","titleFontSize":13.5,"titleFontWeight":"normal","titleColor":"#111"}},
"y":{"field":"y","type":"quantitative","scale":{"domain":[0,20,40,52,400],"range":[579.5,533.3,491.7,467,415],"nice":false,"zero":false},"axis":{"orient":"right","offset":-30.3,"values":[0,20,40,400],"title":null}}},
"layer":[
{"data":{"name":"CRb"},"mark":{"type":"line","color":"#111","strokeWidth":1},"encoding":{}},
{"data":{"name":"CRp"},"mark":{"type":"rule","color":"#111","strokeWidth":1},"encoding":{"y2":{"field":"b"}}},
{"data":{"name":"CRk"},"mark":{"type":"rule","color":"#444","strokeWidth":0.9},"encoding":{"x2":{"field":"x2"},"y2":{"field":"y2"}}},
{"data":{"values":[{"x":1.567,"y":5.7,"x2":0.723,"y2":-4.3}]},"mark":{"type":"rect","filled":false,"color":"#555","strokeDash":[7,4],"strokeWidth":1.2},"encoding":{"x2":{"field":"x2"},"y2":{"field":"y2"}}},
{"data":{"values":[{"x":1.139,"y":6.4,"x2":1.475,"y2":26.4}]},"mark":{"type":"rule","color":"#222","strokeWidth":1.3},"encoding":{"x2":{"field":"x2"},"y2":{"field":"y2"}}},
{"data":{"values":[{"x":1.475,"y":26.4}]},"mark":{"type":"point","shape":"triangle-up","filled":true,"color":"#222","opacity":1,"size":60,"angle":331.6},"encoding":{}},
{"data":{"values":[{"x":4.89,"y":43.3,"t":"C. Pool"}]},"mark":{"type":"text","fontSize":16,"fontWeight":"bold","align":"center","baseline":"middle","color":"#111"},"encoding":{"text":{"field":"t"}}}
]},
{"encoding":{
"x":{"field":"x","type":"quantitative","scale":{"domain":[1.57,0.79],"range":[511.4,637.6],"nice":false,"zero":false},"axis":{"orient":"bottom","offset":-145.3,"values":[1.5,1.4,1.3,1.2,1.1,1.0,0.9,0.8],"format":"~g","title":null,"tickSize":5,"labelFontSize":10.5,"labelPadding":3}},
"y":{"field":"y","type":"quantitative","scale":{"domain":[0,100],"range":[490.7,410.7],"nice":false,"zero":false},"axis":null}},
"layer":[
{"data":{"name":"CIb"},"mark":{"type":"line","color":"#111","strokeWidth":1},"encoding":{}},
{"data":{"name":"CIp"},"mark":{"type":"rule","color":"#111","strokeWidth":1},"encoding":{"y2":{"field":"b"}}}
]}
],
"resolve":{"scale":{"x":"independent","y":"independent"},"axis":{"x":"independent","y":"independent"}}
}
